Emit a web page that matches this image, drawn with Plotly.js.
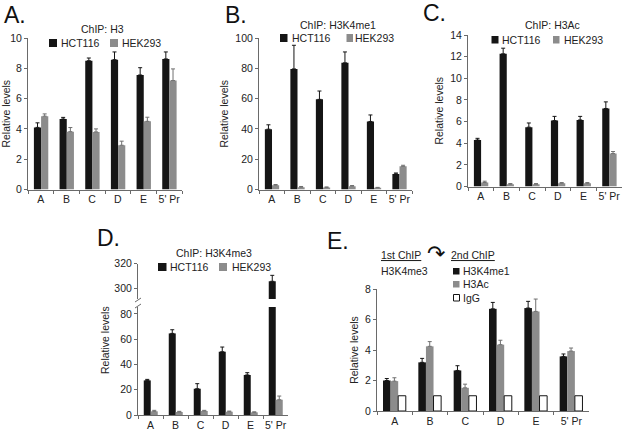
<!DOCTYPE html>
<html>
<head>
<meta charset="utf-8">
<script src="https://cdn.plot.ly/plotly-3.0.1.min.js"></script>
<style>html,body{margin:0;padding:0;background:#fff;}#chart{width:626px;height:433px;}</style>
</head>
<body>
<div id="chart"></div>
<script>
// ---- Data ----
const categories = ['A', 'B', 'C', 'D', 'E', "5' Pr"];

// Panel A: ChIP H3
const h3_hct116 = [4.1, 4.65, 8.5, 8.57, 7.56, 8.62];
const h3_hct116_err = [0.3, 0.11, 0.18, 0.51, 0.48, 0.46];
const h3_hek293 = [4.84, 3.82, 3.8, 2.92, 4.5, 7.19];
const h3_hek293_err = [0.15, 0.27, 0.2, 0.27, 0.27, 0.77];

// Panel B: ChIP H3K4me1
const me1_hct116 = [39.8, 79.6, 59.5, 83.6, 44.9, 10.3];
const me1_hct116_err = [2.9, 15.6, 5.5, 7.2, 4.3, 0.6];
const me1_hek293 = [2.8, 1.5, 1.3, 2.2, 1.1, 15.3];
const me1_hek293_err = [0.5, 0.5, 0.4, 0.4, 0.3, 0.7];

// Panel C: ChIP H3Ac
const ac_hct116 = [4.3, 12.26, 5.48, 6.09, 6.15, 7.21];
const ac_hct116_err = [0.15, 0.52, 0.39, 0.39, 0.33, 0.61];
const ac_hek293 = [0.37, 0.21, 0.21, 0.3, 0.3, 3.04];
const ac_hek293_err = [0.12, 0.06, 0.06, 0.06, 0.06, 0.19];

// Panel D: ChIP H3K4me3 (broken axis)
const me3_hct116 = [27.4, 64.6, 20.8, 50.1, 31.7, 305.7];
const me3_hct116_err = [0.8, 2.9, 4.0, 3.7, 1.8, 4.8];
const me3_hek293 = [2.9, 2.4, 3.2, 2.6, 2.1, 12.1];
const me3_hek293_err = [0.8, 0.5, 0.5, 0.5, 0.4, 2.9];

// Panel E: sequential ChIP (1st H3K4me3 -> 2nd)
const re_me1 = [2.0, 3.19, 2.66, 6.7, 6.75, 3.58];
const re_me1_err = [0.13, 0.26, 0.31, 0.42, 0.44, 0.16];
const re_ac = [1.96, 4.24, 1.52, 4.35, 6.53, 3.93];
const re_ac_err = [0.22, 0.31, 0.24, 0.29, 0.81, 0.2];
const re_igg = [1, 1, 1, 1, 1, 1];

// ---- Styling ----
const W = 626, H = 433;
const px = v => v / W;
const py = v => 1 - v / H;
const BLACK = '#151515', GREY = '#8c8c8c', AXIS = '#6a6a6a', TXT = '#222';
const FONT = 'Liberation Sans, Arial, sans-serif';
const zeros = categories.map(() => 0);

function bar(name, y, err, xa, ya, color, off, w, errColor, lineColor) {
  const t = {
    type: 'bar', name: name, x: categories, y: y, xaxis: xa, yaxis: ya,
    offset: off, width: w, showlegend: false,
    marker: {color: color, line: {color: lineColor || color, width: lineColor ? 1 : 0}}
  };
  if (err) {
    t.error_y = {type: 'data', symmetric: false, array: err, arrayminus: zeros,
                 color: errColor, thickness: 1, width: 2};
  }
  return t;
}

const W2 = 0.28;
const data = [
  bar('HCT116', h3_hct116, h3_hct116_err, 'x', 'y', BLACK, -0.27, W2, BLACK),
  bar('HEK293', h3_hek293, h3_hek293_err, 'x', 'y', GREY, 0.01, W2, '#707070'),
  bar('HCT116', me1_hct116, me1_hct116_err, 'x2', 'y2', BLACK, -0.27, W2, BLACK),
  bar('HEK293', me1_hek293, me1_hek293_err, 'x2', 'y2', GREY, 0.01, W2, '#707070'),
  bar('HCT116', ac_hct116, ac_hct116_err, 'x3', 'y3', BLACK, -0.27, W2, BLACK),
  bar('HEK293', ac_hek293, ac_hek293_err, 'x3', 'y3', GREY, 0.01, W2, '#707070'),
  bar('HCT116', me3_hct116, me3_hct116_err, 'x4', 'y4', BLACK, -0.27, W2, BLACK),
  bar('HEK293', me3_hek293, me3_hek293_err, 'x4', 'y4', GREY, 0.01, W2, '#707070'),
  bar('HCT116', me3_hct116, me3_hct116_err, 'x4', 'y5', BLACK, -0.27, W2, BLACK),
  bar('HEK293', me3_hek293, me3_hek293_err, 'x4', 'y5', GREY, 0.01, W2, '#707070'),
  bar('H3K4me1', re_me1, re_me1_err, 'x5', 'y6', BLACK, -0.33, 0.215, BLACK),
  bar('H3Ac', re_ac, re_ac_err, 'x5', 'y6', GREY, -0.115, 0.215, '#707070'),
  bar('IgG', re_igg, null, 'x5', 'y6', '#ffffff', 0.1, 0.215, null, BLACK)
];

const baseFont = {family: FONT, size: 10.5, color: TXT};
function xax(x0, x1, anchor) {
  return {domain: [px(x0), px(x1)], anchor: anchor, type: 'category', range: [-0.5, 5.5],
          tickson: 'boundaries', ticks: 'outside', ticklen: 3, tickcolor: AXIS, tickangle: 0,
          showline: true, linecolor: AXIS, linewidth: 1, showgrid: false, zeroline: false,
          tickfont: baseFont, fixedrange: true};
}
function yax(yTop, yBot, anchor, range, dtick, title) {
  const a = {domain: [py(yBot), py(yTop)], anchor: anchor, range: range, dtick: dtick,
          ticks: 'outside', ticklen: 3, tickcolor: AXIS, showline: true, linecolor: AXIS,
          linewidth: 1, showgrid: false, zeroline: false, tickfont: baseFont, fixedrange: true};
  if (title) a.title = {text: title, font: baseFont, standoff: 4};
  return a;
}

const shapes = [];
const annotations = [];
function txt(text, x, y, opts) {
  annotations.push(Object.assign({text: text, x: px(x), y: py(y), xref: 'paper', yref: 'paper',
    showarrow: false, xanchor: 'left', yanchor: 'middle', font: baseFont}, opts || {}));
}
function sq(x0, y0, x1, y1, fill, line) {
  shapes.push({type: 'rect', xref: 'paper', yref: 'paper', x0: px(x0), x1: px(x1), y0: py(y0), y1: py(y1),
    fillcolor: fill, line: {color: line || fill, width: line ? 1 : 0}});
}
const bigFont = {family: FONT, size: 23, color: '#111'};
// panel letters
txt('A.', 2, 15, {font: bigFont});
txt('B.', 223, 15, {font: bigFont});
txt('C.', 421, 13, {font: bigFont});
txt('D.', 95, 238, {font: bigFont});
txt('E.', 325, 241, {font: bigFont});
// panel titles
txt('ChIP: H3', 102.5, 29, {xanchor: 'center'});
txt('ChIP: H3K4me1', 338, 25, {xanchor: 'center'});
txt('ChIP: H3Ac', 552, 25, {xanchor: 'center'});
txt('ChIP: H3K4me3', 214, 253, {xanchor: 'center'});
// legends A
sq(49, 39, 57, 47, BLACK); txt('HCT116', 59, 43);
sq(110, 39, 118, 47, GREY); txt('HEK293', 120, 43);
// legend B
sq(280, 34, 287.5, 42, BLACK); txt('HCT116', 290, 38);
sq(346.5, 34, 353, 42, GREY); txt('HEK293', 353, 38);
// legend C
sq(491.5, 36, 498.5, 43.5, BLACK); txt('HCT116', 499.5, 40);
sq(553, 36, 559.5, 43.5, GREY); txt('HEK293', 562, 40);
// legend D
sq(158, 263, 166.5, 271, BLACK); txt('HCT116', 168, 267);
sq(219, 263, 227, 271, GREY); txt('HEK293', 230, 267);
// panel E header
txt('<u>1st ChIP</u>', 379, 255);
txt('↷', 436, 254, {xanchor: 'center', font: {family: 'DejaVu Sans', size: 22, color: '#111'}});
txt('<u>2nd ChIP</u>', 449, 255);
txt('H3K4me3', 379, 271);
sq(453, 268, 459.5, 274.5, BLACK); txt('H3K4me1', 461.5, 271);
sq(453, 281, 459.5, 287.5, GREY); txt('H3Ac', 461.5, 284);
sq(453.5, 294.5, 459.5, 301, '#ffffff', BLACK); txt('IgG', 461.5, 298);
// axis break marks for D
shapes.push({type: 'line', xref: 'paper', yref: 'paper', x0: px(135), x1: px(141), y0: py(302), y1: py(298), line: {color: AXIS, width: 1}});
shapes.push({type: 'line', xref: 'paper', yref: 'paper', x0: px(135), x1: px(141), y0: py(308), y1: py(304), line: {color: AXIS, width: 1}});

const layout = {
  width: W, height: H, margin: {l: 0, r: 0, t: 0, b: 0},
  paper_bgcolor: '#fff', plot_bgcolor: 'rgba(0,0,0,0)',
  font: baseFont, barmode: 'overlay', showlegend: false,
  xaxis: xax(28, 182, 'y'),
  yaxis: yax(38, 189.5, 'x', [0, 10], 2, 'Relative levels'),
  xaxis2: xax(259, 412, 'y2'),
  yaxis2: yax(38, 189.5, 'x2', [0, 100], 20, 'Relative levels'),
  xaxis3: xax(468, 622, 'y3'),
  yaxis3: yax(35, 186.5, 'x3', [0, 14], 2, 'Relative levels'),
  xaxis4: xax(138, 288, 'y4'),
  yaxis4: yax(307, 415, 'x4', [0, 85.5], 20, null),
  yaxis5: Object.assign(yax(263.5, 299, 'x4', [291.5, 320], 20, null), {tickvals: [300, 320]}),
  xaxis5: xax(377, 589, 'y6'),
  yaxis6: yax(289, 411, 'x5', [0, 8], 2, 'Relative levels'),
  shapes: shapes, annotations: annotations
};
txt('Relative levels', 105, 340, {xanchor: 'center', textangle: -90});

Plotly.newPlot('chart', data, layout, {staticPlot: true, displayModeBar: false});
</script>
</body>
</html>
